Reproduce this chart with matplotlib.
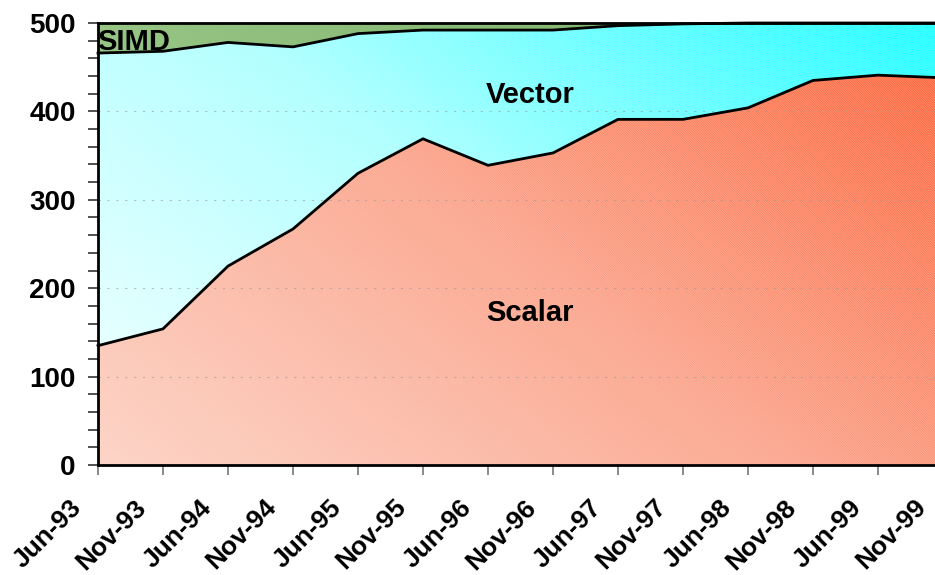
import numpy as np
import matplotlib.pyplot as plt
import matplotlib.transforms as mtransforms
from matplotlib.colors import LinearSegmentedColormap

plt.rcParams['font.family'] = ['Liberation Sans', 'DejaVu Sans']
plt.rcParams['hatch.linewidth'] = 0.6

dates = ['Jun-93', 'Nov-93', 'Jun-94', 'Nov-94', 'Jun-95', 'Nov-95', 'Jun-96',
         'Nov-96', 'Jun-97', 'Nov-97', 'Jun-98', 'Nov-98', 'Jun-99', 'Nov-99']
scalar = [135, 154, 225, 267, 330, 369, 339, 353, 391, 391, 404, 435, 441, 438]
vector = [331, 314, 253, 206, 158, 123, 153, 139, 106, 108, 96, 65, 59, 62]
simd = [34, 32, 22, 27, 12, 8, 8, 8, 3, 1, 0, 0, 0, 0]

x = np.arange(len(dates))
s1 = np.array(scalar)
s2 = s1 + np.array(vector)
s3 = s2 + np.array(simd)

fig = plt.figure(figsize=(9.35, 5.75), dpi=100)
ax = fig.add_axes([98/935, 1-465/575, 845/935, 442/575])
ax.set_xlim(0, 13)
ax.set_ylim(0, 500)

# diagonal gradient helper
gx, gy = np.meshgrid(np.linspace(0, 1, 300), np.linspace(0, 1, 200))
diag = (gx * 0.6 + gy * 0.4)


def grad_fill(lo, hi, colors, hatch_alpha=0.25):
    poly = ax.fill_between(x, lo, hi, facecolor='none', edgecolor='none', zorder=1)
    cmap = LinearSegmentedColormap.from_list('g', colors)
    im = ax.imshow(diag, cmap=cmap, extent=(0, 13, 0, 500), origin='lower',
                   aspect='auto', zorder=1, interpolation='bilinear')
    im.set_clip_path(poly.get_paths()[0], transform=ax.transData)
    ax.fill_between(x, lo, hi, facecolor='none', edgecolor=(1, 1, 1, hatch_alpha),
                    hatch='\\' * 14, linewidth=0, zorder=2)


grad_fill(0, s1, ['#fdcfc0', '#fb9f85', '#ff5a2c'])
grad_fill(s1, s2, ['#f4ffff', '#a8ffff', '#10ffff'])
grad_fill(s2, s3, ['#a8d498', '#88bc74', '#70a85c'], 0.15)

for yv in [100, 200, 300, 400]:
    ax.axhline(yv, color='#999999', lw=0.8, ls=(0, (2, 6)), alpha=0.6, zorder=3)

for line in [s1, s2, s3]:
    ax.plot(x, line, color='black', lw=2, zorder=4, clip_on=False)

ax.text(-0.02, 479, 'SIMD', fontsize=21, fontweight='bold', va='center', zorder=5)
ax.text(6.65, 418, 'Vector', fontsize=21, fontweight='bold', ha='center', va='center', zorder=5)
ax.text(6.65, 172, 'Scalar', fontsize=21, fontweight='bold', ha='center', va='center', zorder=5)

ax.set_xticks(x)
ax.set_xticklabels([])
offset = mtransforms.ScaledTranslation(-29/100, -30/100, fig.dpi_scale_trans)
for xi, lab in zip(x, dates):
    ax.text(xi, 0, lab, rotation=45, ha='right', va='top', rotation_mode='anchor',
            fontsize=19, fontweight='bold', transform=ax.get_xaxis_transform() + offset)

ax.set_yticks([0, 100, 200, 300, 400, 500])
ax.set_yticks(np.arange(0, 501, 20), minor=True)
ax.tick_params(axis='y', which='both', direction='out', length=7, width=1.2,
               labelsize=20, pad=9, color='#333333')
for lab in ax.get_yticklabels():
    lab.set_fontweight('bold')
ax.tick_params(axis='x', direction='out', length=7, width=1.2, color='#777777')

ax.spines['right'].set_visible(False)
ax.spines['top'].set_visible(False)
ax.spines['left'].set_linewidth(2)
ax.spines['bottom'].set_linewidth(2)
ax.spines['left'].set_zorder(6)
ax.spines['bottom'].set_zorder(6)

fig.savefig('out.png', dpi=100)
